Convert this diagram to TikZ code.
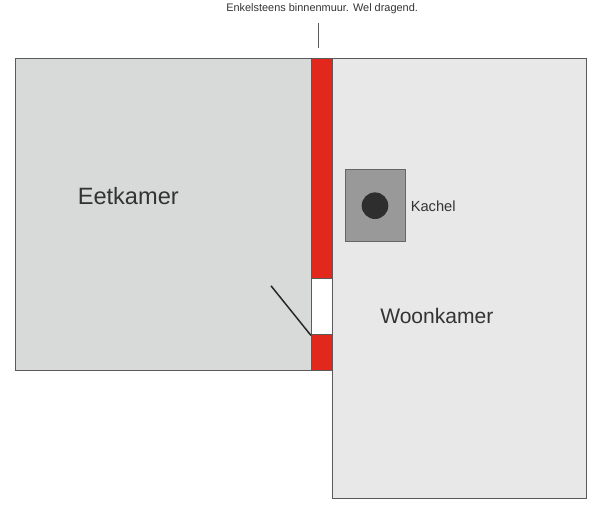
\documentclass[tikz,border=0pt]{standalone}
\usepackage{fontspec}
\setmainfont{Liberation Sans}
\definecolor{eetgrey}{RGB}{216,218,217}
\definecolor{woongrey}{RGB}{232,232,232}
\definecolor{kachelgrey}{RGB}{153,153,153}
\definecolor{wallred}{RGB}{226,40,28}
\definecolor{edgegrey}{RGB}{90,90,90}
\tikzset{
  room/.style={draw=edgegrey,line width=0.6pt},
  label/.style={anchor=west,inner sep=0pt,text=black!80},
}
\begin{document}
\begin{tikzpicture}[x=0.75pt,y=0.75pt,yscale=-1,xscale=1]
\useasboundingbox (0,0) rectangle (600,515);

%Shape: Rectangle [Eetkamer]
\draw [room,fill=eetgrey] (15,58) rectangle (311,370.7);
%Shape: Rectangle [Woonkamer]
\draw [room,fill=woongrey] (332,58) rectangle (586.5,498);
%Shape: Rectangle [wall]
\draw [room,fill=wallred] (311,58) rectangle (332,278.5);
\draw [fill=white,draw=none] (311,278.5) rectangle (332,334.8);
\draw [edgegrey,line width=0.6pt] (311,278.5) -- (311,334.8) (332,278.5) -- (332,334.8);
\draw [room,fill=wallred] (311,334.8) rectangle (332,370.7);
%Shape: Rectangle [Kachel]
\draw [fill=kachelgrey,draw=black!60,line width=0.6pt] (345.8,169.7) rectangle (405,241.7);
%Shape: Circle
\fill [black!82] (375,205.7) circle (13.3);
%Straight Lines [door]
\draw [black!85,line width=1.1pt] (271,285.8) -- (311,335.5);
%Straight Lines [wall pointer]
\draw [black!65,line width=0.9pt] (318.3,22.5) -- (318.3,48.3);

% Text Node
\node [label,font=\fontsize{8.2}{10}\selectfont] (wallText) at (226,9) {Enkelsteens binnenmuur. Wel dragend.};
% Text Node
\node [label,font=\fontsize{17.7}{21}\selectfont] (eetText) at (77.5,196) {Eetkamer};
% Text Node
\node [label,font=\fontsize{11}{13}\selectfont] (kachelText) at (410.5,206) {Kachel};
% Text Node
\node [label,font=\fontsize{15.8}{19}\selectfont] (woonText) at (380,316) {Woonkamer};

\end{tikzpicture}
\end{document}
